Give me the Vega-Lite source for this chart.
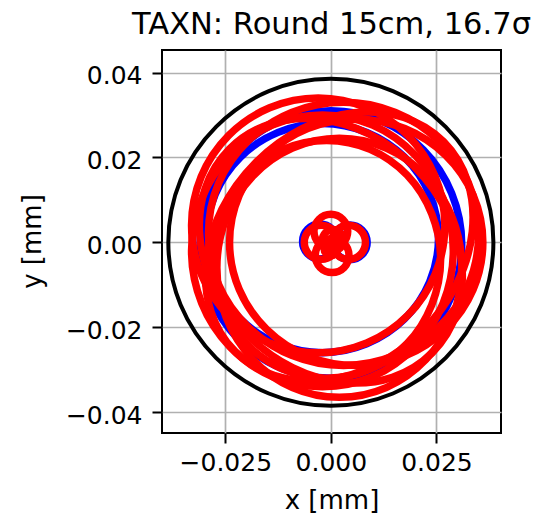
{
"$schema": "https://vega.github.io/schema/vega-lite/v6.json",
"width": 339,
"height": 383,
"autosize": {"type": "none"},
"padding": {"left": 162, "top": 50, "right": 49, "bottom": 80},
"background": "white",
"title": {"text": "TAXN: Round 15cm, 16.7σ", "font": "DejaVu Sans", "fontSize": 30.5, "fontWeight": "normal", "color": "black", "anchor": "middle", "frame": "group", "baseline": "alphabetic", "offset": -14},
"datasets": {
"circle": [
{"k":0,"i":0,"x":0.0385,"y":0},{"k":0,"i":1,"x":0.0356,"y":0.0147},{"k":0,"i":2,"x":0.0272,"y":0.0272},{"k":0,"i":3,"x":0.0147,"y":0.0356},
{"k":0,"i":4,"x":0,"y":0.0385},{"k":0,"i":5,"x":-0.0147,"y":0.0356},{"k":0,"i":6,"x":-0.0272,"y":0.0272},{"k":0,"i":7,"x":-0.0356,"y":0.0147},
{"k":0,"i":8,"x":-0.0385,"y":0},{"k":0,"i":9,"x":-0.0356,"y":-0.0147},{"k":0,"i":10,"x":-0.0272,"y":-0.0272},{"k":0,"i":11,"x":-0.0147,"y":-0.0356},
{"k":0,"i":12,"x":0,"y":-0.0385},{"k":0,"i":13,"x":0.0147,"y":-0.0356},{"k":0,"i":14,"x":0.0272,"y":-0.0272},{"k":0,"i":15,"x":0.0356,"y":-0.0147}
],
"blue": [
{"k":1,"i":0,"x":0.031,"y":-0.0005},{"k":1,"i":1,"x":0.0286,"y":0.0116},{"k":1,"i":2,"x":0.0219,"y":0.0218},{"k":1,"i":3,"x":0.0119,"y":0.0286},
{"k":1,"i":4,"x":0,"y":0.031},{"k":1,"i":5,"x":-0.0119,"y":0.0286},{"k":1,"i":6,"x":-0.0219,"y":0.0218},{"k":1,"i":7,"x":-0.0286,"y":0.0116},
{"k":1,"i":8,"x":-0.031,"y":-0.0005},{"k":1,"i":9,"x":-0.0286,"y":-0.0126},{"k":1,"i":10,"x":-0.0219,"y":-0.0228},{"k":1,"i":11,"x":-0.0119,"y":-0.0296},
{"k":1,"i":12,"x":0,"y":-0.032},{"k":1,"i":13,"x":0.0119,"y":-0.0296},{"k":1,"i":14,"x":0.0219,"y":-0.0228},{"k":1,"i":15,"x":0.0286,"y":-0.0126},
{"k":2,"i":0,"x":0.0255,"y":0.001},{"k":2,"i":1,"x":0.0234,"y":0.0113},{"k":2,"i":2,"x":0.0174,"y":0.0201},{"k":2,"i":3,"x":0.0085,"y":0.0259},
{"k":2,"i":4,"x":-0.002,"y":0.028},{"k":2,"i":5,"x":-0.0125,"y":0.0259},{"k":2,"i":6,"x":-0.0214,"y":0.0201},{"k":2,"i":7,"x":-0.0274,"y":0.0113},
{"k":2,"i":8,"x":-0.0295,"y":0.001},{"k":2,"i":9,"x":-0.0274,"y":-0.0093},{"k":2,"i":10,"x":-0.0214,"y":-0.0181},{"k":2,"i":11,"x":-0.0125,"y":-0.0239},
{"k":2,"i":12,"x":-0.002,"y":-0.026},{"k":2,"i":13,"x":0.0085,"y":-0.0239},{"k":2,"i":14,"x":0.0174,"y":-0.0181},{"k":2,"i":15,"x":0.0234,"y":-0.0093},
{"k":3,"i":0,"x":0.0086,"y":0},{"k":3,"i":1,"x":0.0074,"y":0.0029},{"k":3,"i":2,"x":0.0045,"y":0.0041},{"k":3,"i":3,"x":0.0016,"y":0.0029},
{"k":3,"i":4,"x":0.0004,"y":0},{"k":3,"i":5,"x":0.0016,"y":-0.0029},{"k":3,"i":6,"x":0.0045,"y":-0.0041},{"k":3,"i":7,"x":0.0074,"y":-0.0029},
{"k":4,"i":0,"x":0.0015,"y":0.0002},{"k":4,"i":1,"x":0.0003,"y":0.0031},{"k":4,"i":2,"x":-0.0026,"y":0.0043},{"k":4,"i":3,"x":-0.0055,"y":0.0031},
{"k":4,"i":4,"x":-0.0067,"y":0.0002},{"k":4,"i":5,"x":-0.0055,"y":-0.0027},{"k":4,"i":6,"x":-0.0026,"y":-0.0039},{"k":4,"i":7,"x":0.0003,"y":-0.0027}
],
"red": [
{"k":1,"i":0,"x":0.027,"y":0.004},{"k":1,"i":1,"x":0.0247,"y":0.0155},{"k":1,"i":2,"x":0.0182,"y":0.0252},{"k":1,"i":3,"x":0.0085,"y":0.0317},
{"k":1,"i":4,"x":-0.003,"y":0.034},{"k":1,"i":5,"x":-0.0145,"y":0.0317},{"k":1,"i":6,"x":-0.0242,"y":0.0252},{"k":1,"i":7,"x":-0.0307,"y":0.0155},
{"k":1,"i":8,"x":-0.033,"y":0.004},{"k":1,"i":9,"x":-0.0307,"y":-0.0075},{"k":1,"i":10,"x":-0.0242,"y":-0.0172},{"k":1,"i":11,"x":-0.0145,"y":-0.0237},
{"k":1,"i":12,"x":-0.003,"y":-0.026},{"k":1,"i":13,"x":0.0085,"y":-0.0237},{"k":1,"i":14,"x":0.0182,"y":-0.0172},{"k":1,"i":15,"x":0.0247,"y":-0.0075},
{"k":2,"i":0,"x":0.031,"y":-0.006},{"k":2,"i":1,"x":0.0288,"y":0.0057},{"k":2,"i":2,"x":0.0225,"y":0.0156},{"k":2,"i":3,"x":0.0131,"y":0.0222},
{"k":2,"i":4,"x":0.002,"y":0.0245},{"k":2,"i":5,"x":-0.0091,"y":0.0222},{"k":2,"i":6,"x":-0.0185,"y":0.0156},{"k":2,"i":7,"x":-0.0248,"y":0.0057},
{"k":2,"i":8,"x":-0.027,"y":-0.006},{"k":2,"i":9,"x":-0.0248,"y":-0.0177},{"k":2,"i":10,"x":-0.0185,"y":-0.0276},{"k":2,"i":11,"x":-0.0091,"y":-0.0342},
{"k":2,"i":12,"x":0.002,"y":-0.0365},{"k":2,"i":13,"x":0.0131,"y":-0.0342},{"k":2,"i":14,"x":0.0225,"y":-0.0276},{"k":2,"i":15,"x":0.0288,"y":-0.0177},
{"k":3,"i":0,"x":0.036,"y":0},{"k":3,"i":1,"x":0.0337,"y":0.0111},{"k":3,"i":2,"x":0.0272,"y":0.0205},{"k":3,"i":3,"x":0.0175,"y":0.0268},
{"k":3,"i":4,"x":0.006,"y":0.029},{"k":3,"i":5,"x":-0.0055,"y":0.0268},{"k":3,"i":6,"x":-0.0152,"y":0.0205},{"k":3,"i":7,"x":-0.0217,"y":0.0111},
{"k":3,"i":8,"x":-0.024,"y":0},{"k":3,"i":9,"x":-0.0217,"y":-0.0111},{"k":3,"i":10,"x":-0.0152,"y":-0.0205},{"k":3,"i":11,"x":-0.0055,"y":-0.0268},
{"k":3,"i":12,"x":0.006,"y":-0.029},{"k":3,"i":13,"x":0.0175,"y":-0.0268},{"k":3,"i":14,"x":0.0272,"y":-0.0205},{"k":3,"i":15,"x":0.0337,"y":-0.0111},
{"k":4,"i":0,"x":0.029,"y":-0.002},{"k":4,"i":1,"x":0.0266,"y":0.0103},{"k":4,"i":2,"x":0.0199,"y":0.0206},{"k":4,"i":3,"x":0.0099,"y":0.0276},
{"k":4,"i":4,"x":-0.002,"y":0.03},{"k":4,"i":5,"x":-0.0139,"y":0.0276},{"k":4,"i":6,"x":-0.0239,"y":0.0206},{"k":4,"i":7,"x":-0.0306,"y":0.0103},
{"k":4,"i":8,"x":-0.033,"y":-0.002},{"k":4,"i":9,"x":-0.0306,"y":-0.0143},{"k":4,"i":10,"x":-0.0239,"y":-0.0246},{"k":4,"i":11,"x":-0.0139,"y":-0.0316},
{"k":4,"i":12,"x":-0.002,"y":-0.034},{"k":4,"i":13,"x":0.0099,"y":-0.0316},{"k":4,"i":14,"x":0.0199,"y":-0.0246},{"k":4,"i":15,"x":0.0266,"y":-0.0143},
{"k":5,"i":0,"x":0.035,"y":0.002},{"k":5,"i":1,"x":0.0326,"y":0.0139},{"k":5,"i":2,"x":0.0256,"y":0.0239},{"k":5,"i":3,"x":0.0153,"y":0.0306},
{"k":5,"i":4,"x":0.003,"y":0.033},{"k":5,"i":5,"x":-0.0093,"y":0.0306},{"k":5,"i":6,"x":-0.0196,"y":0.0239},{"k":5,"i":7,"x":-0.0266,"y":0.0139},
{"k":5,"i":8,"x":-0.029,"y":0.002},{"k":5,"i":9,"x":-0.0266,"y":-0.0099},{"k":5,"i":10,"x":-0.0196,"y":-0.0199},{"k":5,"i":11,"x":-0.0093,"y":-0.0266},
{"k":5,"i":12,"x":0.003,"y":-0.029},{"k":5,"i":13,"x":0.0153,"y":-0.0266},{"k":5,"i":14,"x":0.0256,"y":-0.0199},{"k":5,"i":15,"x":0.0326,"y":-0.0099},
{"k":6,"i":0,"x":0.026,"y":-0.004},{"k":6,"i":1,"x":0.0239,"y":0.0067},{"k":6,"i":2,"x":0.0181,"y":0.0158},{"k":6,"i":3,"x":0.0093,"y":0.0219},
{"k":6,"i":4,"x":-0.001,"y":0.024},{"k":6,"i":5,"x":-0.0113,"y":0.0219},{"k":6,"i":6,"x":-0.0201,"y":0.0158},{"k":6,"i":7,"x":-0.0259,"y":0.0067},
{"k":6,"i":8,"x":-0.028,"y":-0.004},{"k":6,"i":9,"x":-0.0259,"y":-0.0147},{"k":6,"i":10,"x":-0.0201,"y":-0.0238},{"k":6,"i":11,"x":-0.0113,"y":-0.0299},
{"k":6,"i":12,"x":-0.001,"y":-0.032},{"k":6,"i":13,"x":0.0093,"y":-0.0299},{"k":6,"i":14,"x":0.0181,"y":-0.0238},{"k":6,"i":15,"x":0.0239,"y":-0.0147},
{"k":7,"i":0,"x":0.0267,"y":0.0237},{"k":7,"i":1,"x":0.0173,"y":0.0294},{"k":7,"i":2,"x":0.0055,"y":0.0305},{"k":7,"i":3,"x":-0.0068,"y":0.0268},
{"k":7,"i":4,"x":-0.0178,"y":0.0188},{"k":7,"i":5,"x":-0.0258,"y":0.0078},{"k":7,"i":6,"x":-0.0295,"y":-0.0045},{"k":7,"i":7,"x":-0.0284,"y":-0.0163},
{"k":7,"i":8,"x":-0.0227,"y":-0.0257},{"k":7,"i":9,"x":-0.0133,"y":-0.0314},{"k":7,"i":10,"x":-0.0015,"y":-0.0325},{"k":7,"i":11,"x":0.0108,"y":-0.0288},
{"k":7,"i":12,"x":0.0218,"y":-0.0208},{"k":7,"i":13,"x":0.0298,"y":-0.0098},{"k":7,"i":14,"x":0.0335,"y":0.0025},{"k":7,"i":15,"x":0.0324,"y":0.0143},
{"k":8,"i":0,"x":0.024,"y":-0.026},{"k":8,"i":1,"x":0.0298,"y":-0.0166},{"k":8,"i":2,"x":0.031,"y":-0.005},{"k":8,"i":3,"x":0.0275,"y":0.0071},
{"k":8,"i":4,"x":0.0198,"y":0.0178},{"k":8,"i":5,"x":0.0091,"y":0.0255},{"k":8,"i":6,"x":-0.003,"y":0.029},{"k":8,"i":7,"x":-0.0146,"y":0.0278},
{"k":8,"i":8,"x":-0.024,"y":0.022},{"k":8,"i":9,"x":-0.0298,"y":0.0126},{"k":8,"i":10,"x":-0.031,"y":0.001},{"k":8,"i":11,"x":-0.0275,"y":-0.0111},
{"k":8,"i":12,"x":-0.0198,"y":-0.0218},{"k":8,"i":13,"x":-0.0091,"y":-0.0295},{"k":8,"i":14,"x":0.003,"y":-0.033},{"k":8,"i":15,"x":0.0146,"y":-0.0318},
{"k":9,"i":0,"x":0.004,"y":0.0026},{"k":9,"i":1,"x":0.00283,"y":0.00543},{"k":9,"i":2,"x":0,"y":0.0066},{"k":9,"i":3,"x":-0.00283,"y":0.00543},
{"k":9,"i":4,"x":-0.004,"y":0.0026},{"k":9,"i":5,"x":-0.00283,"y":-0.00023},{"k":9,"i":6,"x":0,"y":-0.0014},{"k":9,"i":7,"x":0.00283,"y":-0.00023},
{"k":10,"i":0,"x":0.0082,"y":0},{"k":10,"i":1,"x":0.00703,"y":0.00283},{"k":10,"i":2,"x":0.0042,"y":0.004},{"k":10,"i":3,"x":0.00137,"y":0.00283},
{"k":10,"i":4,"x":0.0002,"y":0},{"k":10,"i":5,"x":0.00137,"y":-0.00283},{"k":10,"i":6,"x":0.0042,"y":-0.004},{"k":10,"i":7,"x":0.00703,"y":-0.00283},
{"k":11,"i":0,"x":0.0043,"y":-0.0031},{"k":11,"i":1,"x":0.00313,"y":-0.00027},{"k":11,"i":2,"x":0.0003,"y":0.0009},{"k":11,"i":3,"x":-0.00253,"y":-0.00027},
{"k":11,"i":4,"x":-0.0037,"y":-0.0031},{"k":11,"i":5,"x":-0.00253,"y":-0.00593},{"k":11,"i":6,"x":0.0003,"y":-0.0071},{"k":11,"i":7,"x":0.00313,"y":-0.00593},
{"k":12,"i":0,"x":0.0017,"y":0},{"k":12,"i":1,"x":0.00053,"y":0.00283},{"k":12,"i":2,"x":-0.0023,"y":0.004},{"k":12,"i":3,"x":-0.00513,"y":0.00283},
{"k":12,"i":4,"x":-0.0063,"y":0},{"k":12,"i":5,"x":-0.00513,"y":-0.00283},{"k":12,"i":6,"x":-0.0023,"y":-0.004},{"k":12,"i":7,"x":0.00053,"y":-0.00283},
{"k":13,"i":0,"x":0.003,"y":0.0005},{"k":13,"i":1,"x":0.00227,"y":0.00227},{"k":13,"i":2,"x":0.0005,"y":0.003},{"k":13,"i":3,"x":-0.00127,"y":0.00227},
{"k":13,"i":4,"x":-0.002,"y":0.0005},{"k":13,"i":5,"x":-0.00127,"y":-0.00127},{"k":13,"i":6,"x":0.0005,"y":-0.002},{"k":13,"i":7,"x":0.00227,"y":-0.00127},
{"k":14,"i":0,"x":0.0016,"y":-0.0015},{"k":14,"i":1,"x":0.00113,"y":-0.00037},{"k":14,"i":2,"x":0,"y":0.0001},{"k":14,"i":3,"x":-0.00113,"y":-0.00037},
{"k":14,"i":4,"x":-0.0016,"y":-0.0015},{"k":14,"i":5,"x":-0.00113,"y":-0.00263},{"k":14,"i":6,"x":0,"y":-0.0031},{"k":14,"i":7,"x":0.00113,"y":-0.00263}
]
},
"encoding": {
"x": {"field": "x", "type": "quantitative", "scale": {"domain": [-0.04, 0.0403], "nice": false, "zero": false},
 "axis": {"title": "x [mm]", "values": [-0.025, 0, 0.025], "format": ".3f", "grid": true, "gridColor": "#b0b0b0", "gridWidth": 1.7, "domain": false, "ticks": true, "tickSize": 10, "tickWidth": 2, "tickColor": "black", "labelFont": "DejaVu Sans", "labelFontSize": 25, "labelColor": "black", "labelPadding": 7, "labelFlush": false, "labelOverlap": false, "titleFont": "DejaVu Sans", "titleFontSize": 26, "titleFontWeight": "normal", "titleColor": "black", "titleBaseline": "alphabetic", "titleY": 75}},
"y": {"field": "y", "type": "quantitative", "scale": {"domain": [-0.0449, 0.0453], "nice": false, "zero": false},
 "axis": {"title": "y [mm]", "values": [-0.04, -0.02, 0, 0.02, 0.04], "format": ".2f", "grid": true, "gridColor": "#b0b0b0", "gridWidth": 1.7, "domain": false, "ticks": true, "tickSize": 10, "tickWidth": 2, "tickColor": "black", "labelFont": "DejaVu Sans", "labelFontSize": 25, "labelColor": "black", "labelPadding": 10, "labelFlush": false, "labelOverlap": false, "labelBaseline": "middle", "labelOffset": 3, "titleFont": "DejaVu Sans", "titleFontSize": 26, "titleFontWeight": "normal", "titleColor": "black", "titleAngle": -90, "titleBaseline": "alphabetic", "titleX": -122, "titleY": 191}},
"detail": {"field": "k", "type": "nominal"},
"order": {"field": "i", "type": "quantitative"}
},
"layer": [
{"data": {"name": "blue"}, "mark": {"type": "line", "interpolate": "cardinal-closed", "color": "#0000ff", "strokeWidth": 7.5}},
{"data": {"name": "red"}, "mark": {"type": "line", "interpolate": "cardinal-closed", "color": "#ff0000", "strokeWidth": 7.5}},
{"data": {"name": "circle"}, "mark": {"type": "line", "interpolate": "cardinal-closed", "color": "black", "strokeWidth": 4}}
],
"config": {"font": "DejaVu Sans", "view": {"stroke": "black", "strokeWidth": 2}}
}
